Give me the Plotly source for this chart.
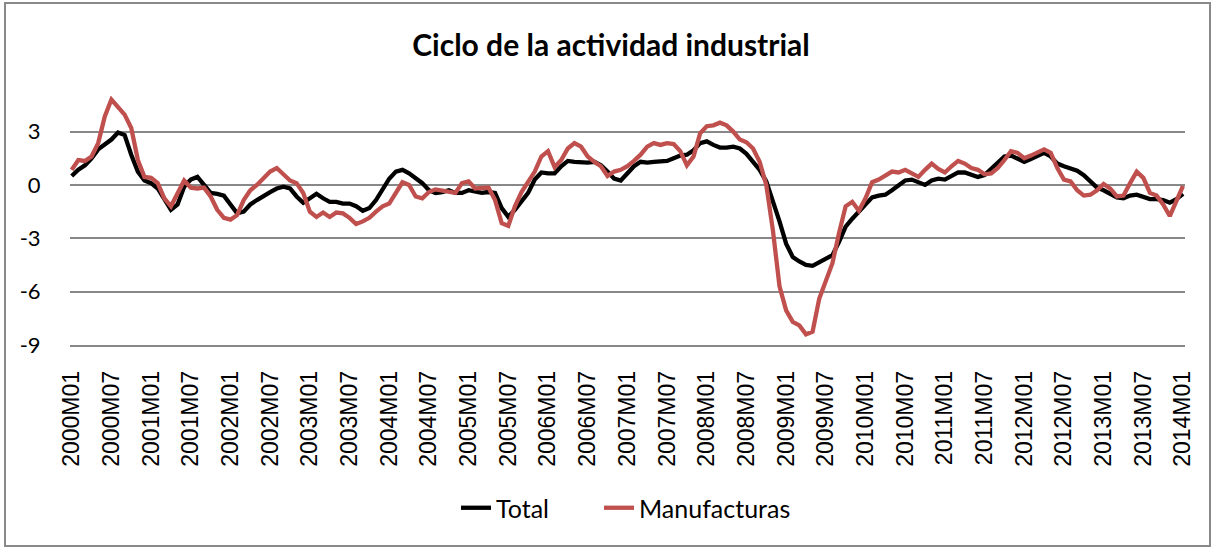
import plotly.graph_objects as go

years = list(range(2000, 2015))
periods = [f"{y}M{m:02d}" for y in years for m in range(1, 13)][:169]

total = [0.5, 0.85, 1.1, 1.5, 2.0, 2.25, 2.55, 2.95, 2.8, 1.7,
         0.75, 0.25, 0.1, -0.2, -0.85, -1.4, -1.1, -0.1, 0.3, 0.45,
         0.0, -0.45, -0.5, -0.6, -1.1, -1.6, -1.5, -1.1, -0.85, -0.6,
         -0.4, -0.2, -0.1, -0.2, -0.65, -1.0, -0.75, -0.5, -0.75, -0.95,
         -0.95, -1.05, -1.05, -1.2, -1.45, -1.3, -0.85, -0.2, 0.35, 0.75,
         0.85, 0.65, 0.35, 0.1, -0.3, -0.45, -0.4, -0.3, -0.45, -0.45,
         -0.3, -0.4, -0.45, -0.4, -0.45, -1.3, -1.8, -1.4, -0.95, -0.45,
         0.3, 0.7, 0.65, 0.65, 1.05, 1.35, 1.3, 1.25, 1.25, 1.3,
         1.1, 0.75, 0.35, 0.25, 0.65, 1.05, 1.3, 1.25, 1.3, 1.35,
         1.35, 1.5, 1.65, 1.7, 1.95, 2.35, 2.45, 2.25, 2.1, 2.1,
         2.15, 2.05, 1.75, 1.3, 0.85, 0.2, -0.85, -2.05, -3.3, -4.05,
         -4.3, -4.5, -4.55, -4.35, -4.2, -3.95, -3.2, -2.35, -1.9, -1.5,
         -1.05, -0.7, -0.6, -0.55, -0.3, 0.0, 0.25, 0.3, 0.15, 0.0,
         0.25, 0.35, 0.3, 0.5, 0.7, 0.7, 0.55, 0.45, 0.55, 0.9,
         1.25, 1.6, 1.65, 1.45, 1.3, 1.45, 1.65, 1.8, 1.6, 1.2,
         1.05, 0.95, 0.8, 0.55, 0.2, -0.15, -0.3, -0.5, -0.7, -0.75,
         -0.6, -0.55, -0.7, -0.8, -0.8, -0.85, -1.0, -0.8, -0.5]

manufacturas = [0.85, 1.4, 1.35, 1.6, 2.35, 3.85, 4.8, 4.4, 3.95, 3.2,
                1.4, 0.45, 0.4, 0.1, -0.75, -1.2, -0.45, 0.25, -0.15, -0.2,
                -0.15, -0.65, -1.4, -1.85, -1.95, -1.7, -0.85, -0.3, 0.0, 0.4,
                0.75, 0.95, 0.6, 0.25, 0.1, -0.45, -1.5, -1.8, -1.55, -1.8,
                -1.55, -1.6, -1.85, -2.2, -2.05, -1.85, -1.5, -1.2, -1.05, -0.45,
                0.15, 0.0, -0.65, -0.75, -0.4, -0.25, -0.3, -0.4, -0.45, 0.1,
                0.2, -0.2, -0.2, -0.15, -0.85, -2.15, -2.3, -1.2, -0.4, 0.2,
                0.75, 1.6, 1.9, 1.0, 1.4, 2.05, 2.35, 2.15, 1.6, 1.3,
                1.05, 0.5, 0.75, 0.85, 1.05, 1.35, 1.7, 2.15, 2.35, 2.25,
                2.35, 2.3, 1.9, 1.1, 1.6, 2.9, 3.3, 3.35, 3.5, 3.35,
                3.0, 2.55, 2.4, 2.05, 1.3, 0.0, -2.55, -5.7, -7.05, -7.7,
                -7.9, -8.4, -8.25, -6.4, -5.35, -4.4, -2.7, -1.2, -0.95, -1.45,
                -0.75, 0.15, 0.3, 0.5, 0.75, 0.7, 0.85, 0.65, 0.45, 0.85,
                1.2, 0.9, 0.7, 1.05, 1.35, 1.2, 0.95, 0.85, 0.6, 0.65,
                0.95, 1.4, 1.9, 1.8, 1.5, 1.65, 1.8, 2.0, 1.8, 0.95,
                0.3, 0.2, -0.3, -0.6, -0.55, -0.3, 0.05, -0.2, -0.65, -0.6,
                0.1, 0.75, 0.4, -0.45, -0.6, -1.1, -1.75, -0.85, -0.05]

tick_labels = ["2000M01", "2000M07", "2001M01", "2001M07", "2002M01", "2002M07",
               "2003M01", "2003M07", "2004M01", "2004M07", "2005M01", "2005M07",
               "2006M01", "2006M07", "2007M01", "2007M07", "2008M01", "2008M07",
               "2009M01", "2009M07", "2010M01", "2010M07", "2011M01", "2011M07",
               "2012M01", "2012M07", "2013M01", "2013M07", "2014M01"]

y_ticks = [3, 0, -3, -6, -9]

fig = go.Figure()
fig.add_trace(go.Scatter(x=periods, y=total, mode="lines", name="Total",
                         line=dict(color="#000000", width=4.3), legend="legend"))
fig.add_trace(go.Scatter(x=periods, y=manufacturas, mode="lines", name="Manufacturas",
                         line=dict(color="#C0504D", width=4.3), legend="legend2"))

L, R, T, B = 70, 29, 96, 203
W, H = 1214, 548
pw, ph = W - L - R, H - T - B

def px(x):
    return (x - L) / pw

def py(y):
    return (H - B - y) / ph

leg_font = dict(family="Lato", size=25, color="#000000")

fig.update_layout(
    width=W, height=H,
    margin=dict(l=L, r=R, t=T, b=B, pad=0, autoexpand=False),
    paper_bgcolor="white", plot_bgcolor="white",
    title=dict(text="<b>Ciclo de la actividad industrial</b>",
               font=dict(family="Lato", size=30, color="#000000"),
               x=(611 / W), xanchor="center", y=1 - 45 / H, yanchor="middle"),
    showlegend=True,
    legend=dict(orientation="h", x=px(456), xanchor="left", y=py(508), yanchor="middle",
                font=leg_font, bgcolor="rgba(0,0,0,0)"),
    legend2=dict(orientation="h", x=px(599), xanchor="left", y=py(508), yanchor="middle",
                 font=leg_font, bgcolor="rgba(0,0,0,0)"),
    xaxis=dict(type="category", range=[-0.26, 168.3],
               tickmode="array", tickvals=tick_labels, ticktext=tick_labels,
               tickangle=-90, showgrid=False, zeroline=False,
               showline=True, linecolor="#888888", linewidth=1.5,
               ticks="outside", ticklen=15, tickcolor="rgba(0,0,0,0)",
               tickfont=dict(family="Liberation Sans", size=23, color="#000000")),
    yaxis=dict(range=[-9, 5], tickmode="array", tickvals=y_ticks,
               ticktext=[str(v) for v in y_ticks],
               showgrid=True, gridcolor="#888888", gridwidth=1.5, zeroline=False,
               ticks="outside", ticklen=24, tickcolor="rgba(0,0,0,0)",
               tickfont=dict(family="Lato", size=22, color="#000000")),
    shapes=[dict(type="rect", xref="paper", yref="paper",
                 x0=px(5), x1=px(1210), y0=py(546), y1=py(3),
                 line=dict(color="#898989", width=2), fillcolor="rgba(0,0,0,0)",
                 layer="below")],
)

fig.write_html("out.html", config={"displayModeBar": False},
               post_script="document.body.style.margin='0';document.body.style.overflow='hidden';")
